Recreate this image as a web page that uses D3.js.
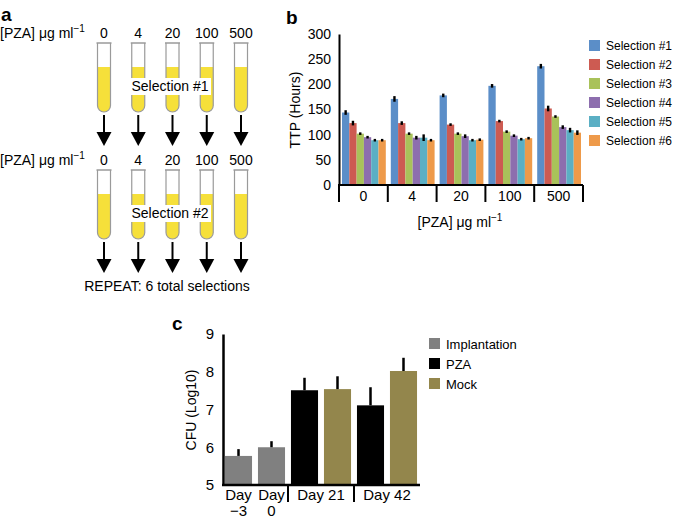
<!DOCTYPE html>
<html>
<head>
<meta charset="utf-8">
<script src="https://cdn.jsdelivr.net/npm/d3@7"></script>
<style>
  body { margin: 0; background: #fff; }
  text { font-family: "Liberation Sans", Arial, sans-serif; fill: #000; }
</style>
</head>
<body>
<svg id="fig" width="675" height="522"></svg>
<script>
// panel a
const conc = ['0', '4', '20', '100', '500'];
const rounds = ['Selection #1', 'Selection #2'];

// panel b - TTP (hours) per selection round, per PZA concentration
const selections = ['Selection #1', 'Selection #2', 'Selection #3', 'Selection #4', 'Selection #5', 'Selection #6'];
const selColors = ['#5b8ec8', '#cd5b52', '#a9c25a', '#8d6eae', '#5bafc4', '#ee9a4a'];
const ttp = [
  [144, 171, 178, 197, 236],
  [123, 123, 120, 127, 152],
  [102, 102, 102, 106, 136],
  [95, 94, 97, 98, 115],
  [89, 94, 89, 91, 109],
  [89, 89, 90, 93, 104]
];
const ttpErr = [
  [3, 4, 2, 2, 3],
  [3, 2, 1, 1, 4],
  [1, 1, 1, 1, 1],
  [1, 2, 2, 1, 2],
  [1, 5, 1, 1, 3],
  [1, 1, 1, 1, 3]
];
const ttpTicks = [0, 50, 100, 150, 200, 250, 300];

// panel c - CFU
const cfuDays = ['Day −3', 'Day 0', 'Day 21', 'Day 21', 'Day 42', 'Day 42'];
const cfuTreat = ['Implantation', 'Implantation', 'PZA', 'Mock', 'PZA', 'Mock'];
const cfuMean = [5.77, 6.0, 7.51, 7.54, 7.11, 8.02];
const cfuErr = [0.18, 0.16, 0.33, 0.34, 0.48, 0.35];
const cfuTicks = [5, 6, 7, 8, 9];
const treatments = ['Implantation', 'PZA', 'Mock'];
const treatColors = ['#808080', '#000000', '#93864c'];

const svg = d3.select('#fig');

function pzaLabel(sel, x, y, anchor) {
  const t = sel.append('text').attr('x', x).attr('y', y)
    .attr('font-size', 14).attr('text-anchor', anchor || 'start');
  t.append('tspan').text('[PZA] μg ml');
  t.append('tspan').attr('font-size', 10).attr('dy', -6).text('−1');
  return t;
}

// ---------- a ----------
svg.append('text').attr('x', 1).attr('y', 21).attr('font-size', 19)
  .attr('font-weight', 'bold').text('a');

const xa = d3.scalePoint().domain(conc).range([104, 241]);
const tubeW = 13;

function tubePath(cx, top, bottom) {
  const r = tubeW / 2;
  return `M${cx - r},${top} L${cx - r},${bottom - r} A${r},${r} 0 0 0 ${cx + r},${bottom - r} L${cx + r},${top}`;
}

rounds.forEach((name, i) => {
  const y0 = i === 0 ? 0 : 127;
  const g = svg.append('g').attr('transform', `translate(0,${y0})`);
  pzaLabel(g, 0, 38);
  g.selectAll('.conc').data(conc).join('text')
    .attr('x', d => xa(d)).attr('y', 38).attr('font-size', 14)
    .attr('text-anchor', 'middle').text(d => d);

  const tube = g.selectAll('.tube').data(conc).join('g');
  tube.append('path')
    .attr('d', d => {
      const r = tubeW / 2, cx = xa(d), top = 67, bottom = 112;
      return `M${cx - r},${top} L${cx - r},${bottom - r} A${r},${r} 0 0 0 ${cx + r},${bottom - r} L${cx + r},${top} Z`;
    })
    .attr('fill', '#f6e03a');
  tube.append('path')
    .attr('d', d => tubePath(xa(d), 43, 112))
    .attr('fill', 'none').attr('stroke', '#9a9a9a').attr('stroke-width', 1.2);
  tube.append('line')
    .attr('x1', d => xa(d) - tubeW / 2 - 1).attr('x2', d => xa(d) + tubeW / 2 + 1)
    .attr('y1', 43).attr('y2', 43)
    .attr('stroke', '#9a9a9a').attr('stroke-width', 1.5);

  g.append('rect').attr('x', 129).attr('y', 78).attr('width', 82).attr('height', 17)
    .attr('fill', '#fff');
  g.append('text').attr('x', 170).attr('y', 91).attr('font-size', 14)
    .attr('text-anchor', 'middle').text(name);

  const arrow = g.selectAll('.arrow').data(conc).join('g');
  arrow.append('line')
    .attr('x1', d => xa(d)).attr('x2', d => xa(d))
    .attr('y1', 115).attr('y2', 134)
    .attr('stroke', '#000').attr('stroke-width', 2);
  arrow.append('path')
    .attr('d', d => `M${xa(d) - 7.5},132 L${xa(d) + 7.5},132 L${xa(d)},146 Z`)
    .attr('fill', '#000');
});

svg.append('text').attr('x', 167).attr('y', 291).attr('font-size', 14)
  .attr('text-anchor', 'middle').text('REPEAT: 6 total selections');

// ---------- b ----------
svg.append('text').attr('x', 286).attr('y', 24).attr('font-size', 19)
  .attr('font-weight', 'bold').text('b');

const xb = d3.scaleBand().domain(conc).range([339, 583]);
const xs = d3.scaleBand().domain(selections).range([3, xb.bandwidth() - 2]);
const yb = d3.scaleLinear().domain([0, 300]).range([185, 34]);

const gb = svg.append('g');
gb.append('g').attr('transform', 'translate(339,0)')
  .call(d3.axisLeft(yb).tickValues(ttpTicks).tickSize(0).tickPadding(8))
  .call(a => a.select('.domain').attr('stroke-width', 2))
  .call(a => a.selectAll('text').attr('font-size', 14).attr('font-family', '"Liberation Sans", Arial, sans-serif'));

selections.forEach((s, si) => {
  const rows = conc.map((c, ci) => ({ c, v: ttp[si][ci], e: ttpErr[si][ci] }));
  gb.selectAll('.bar' + si).data(rows).join('rect')
    .attr('x', d => xb(d.c) + xs(s)).attr('width', xs.bandwidth())
    .attr('y', d => yb(d.v)).attr('height', d => yb(0) - yb(d.v))
    .attr('fill', selColors[si]);
  gb.selectAll('.err' + si).data(rows).join('line')
    .attr('x1', d => xb(d.c) + xs(s) + xs.bandwidth() / 2)
    .attr('x2', d => xb(d.c) + xs(s) + xs.bandwidth() / 2)
    .attr('y1', d => yb(d.v - d.e) + 0.8).attr('y2', d => yb(d.v + d.e) - 0.8)
    .attr('stroke', '#000').attr('stroke-width', 2.4);
});

gb.append('line').attr('x1', 338).attr('x2', 583).attr('y1', 185).attr('y2', 185)
  .attr('stroke', '#000').attr('stroke-width', 2);
gb.selectAll('.div').data(conc.map(c => xb(c)).concat([583])).join('line')
  .attr('x1', d => d).attr('x2', d => d).attr('y1', 185).attr('y2', 202)
  .attr('stroke', '#000').attr('stroke-width', 2);
gb.selectAll('.xl').data(conc).join('text')
  .attr('x', d => xb(d) + xb.bandwidth() / 2).attr('y', 201)
  .attr('font-size', 14).attr('text-anchor', 'middle').text(d => d);
pzaLabel(gb, 460, 227, 'middle');
gb.append('text').attr('transform', 'translate(300,110) rotate(-90)')
  .attr('font-size', 14).attr('text-anchor', 'middle').text('TTP (Hours)');

const lb = gb.selectAll('.leg').data(selections).join('g')
  .attr('transform', (d, i) => `translate(589,${40 + i * 19})`);
lb.append('rect').attr('width', 11).attr('height', 11)
  .attr('fill', (d, i) => selColors[i]);
lb.append('text').attr('x', 17).attr('y', 10).attr('font-size', 12).text(d => d);

// ---------- c ----------
svg.append('text').attr('x', 172).attr('y', 330).attr('font-size', 19)
  .attr('font-weight', 'bold').text('c');

const idx = d3.range(cfuMean.length);
const xc = d3.scaleBand().domain(idx).range([222, 420]).paddingInner(0.18).paddingOuter(0.09);
const yc = d3.scaleLinear().domain([5, 9]).range([485, 334]);
const cColor = d3.scaleOrdinal().domain(treatments).range(treatColors);

const gc = svg.append('g');
gc.append('g').attr('transform', 'translate(223,0)')
  .call(d3.axisLeft(yc).tickValues(cfuTicks).tickFormat(d3.format('d')).tickSize(0).tickPadding(9))
  .call(a => a.select('.domain').attr('stroke-width', 2.5))
  .call(a => a.selectAll('text').attr('font-size', 15).attr('font-family', '"Liberation Sans", Arial, sans-serif'));

gc.selectAll('.cbar').data(idx).join('rect')
  .attr('x', i => xc(i)).attr('width', xc.bandwidth())
  .attr('y', i => yc(cfuMean[i])).attr('height', i => yc(5) - yc(cfuMean[i]))
  .attr('fill', i => cColor(cfuTreat[i]));
gc.selectAll('.cerr').data(idx).join('line')
  .attr('x1', i => xc(i) + xc.bandwidth() / 2).attr('x2', i => xc(i) + xc.bandwidth() / 2)
  .attr('y1', i => yc(cfuMean[i])).attr('y2', i => yc(cfuMean[i] + cfuErr[i]))
  .attr('stroke', '#000')
  .attr('stroke-width', 2.5);

gc.append('line').attr('x1', 222).attr('x2', 420).attr('y1', 485).attr('y2', 485)
  .attr('stroke', '#000').attr('stroke-width', 2.5);

const days = Array.from(new Set(cfuDays));
const dayGroups = days.map(d => {
  const members = idx.filter(i => cfuDays[i] === d);
  const x0 = xc(members[0]), x1 = xc(members[members.length - 1]) + xc.bandwidth();
  return { d, members, x0, x1, cx: (x0 + x1) / 2 };
});
gc.selectAll('.cdiv').data(dayGroups.filter(g => g.members.length > 1)).join('line')
  .attr('x1', g => g.x0 - xc.step() * 0.09).attr('x2', g => g.x0 - xc.step() * 0.09)
  .attr('y1', 485).attr('y2', 502)
  .attr('stroke', '#000').attr('stroke-width', 2);
dayGroups.forEach(g => {
  if (g.members.length > 1) {
    gc.append('text').attr('x', g.cx).attr('y', 500).attr('font-size', 15)
      .attr('text-anchor', 'middle').text(g.d);
  } else {
    const parts = g.d.split(' ');
    gc.append('text').attr('x', g.cx).attr('y', 500).attr('font-size', 15)
      .attr('text-anchor', 'middle').text(parts[0]);
    gc.append('text').attr('x', g.cx).attr('y', 516).attr('font-size', 15)
      .attr('text-anchor', 'middle').text(parts[1]);
  }
});

gc.append('text').attr('transform', 'translate(196,410) rotate(-90)')
  .attr('font-size', 14).attr('text-anchor', 'middle').text('CFU (Log10)');

const lc = gc.selectAll('.cleg').data(treatments).join('g')
  .attr('transform', (d, i) => `translate(429,${338 + i * 20})`);
lc.append('rect').attr('width', 11).attr('height', 11).attr('fill', d => cColor(d));
lc.append('text').attr('x', 17).attr('y', 10.5).attr('font-size', 13).text(d => d);
</script>
</body>
</html>
